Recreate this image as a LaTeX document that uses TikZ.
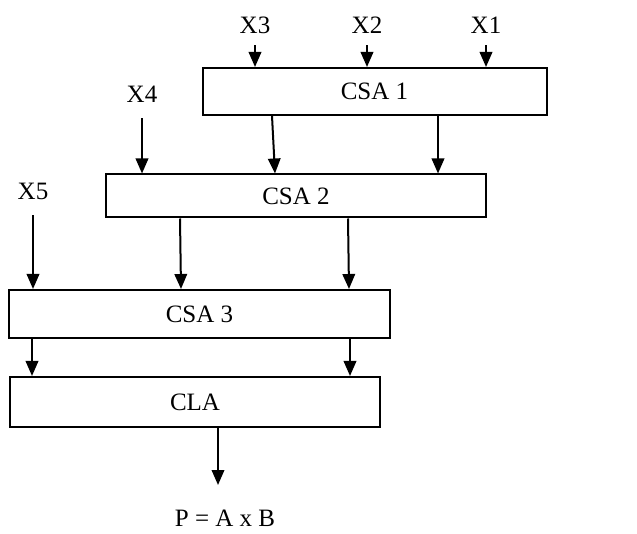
\documentclass[tikz,border=0pt]{standalone}
\usepackage{fontspec}
\setmainfont{Liberation Serif}
\usetikzlibrary{arrows.meta}

\begin{document}
\begin{tikzpicture}[
  x=1pt,y=1pt,
  >={Triangle[length=15pt,width=12.5pt]},
  font=\fontsize{25}{30}\selectfont,
  adder/.style={draw=black, line width=2pt, fill=white, inner sep=0pt},
  operand/.style={fill=white, inner sep=0pt, minimum width=70pt, minimum height=40pt},
  flow/.style={->, draw=black, line width=2pt}
]
\path[use as bounding box] (0,0) rectangle (637,533);

% Adder stages
\node[adder, minimum width=344pt, minimum height=47pt] (csa1) at (374.5,441.5) {CSA 1};
\node[adder, minimum width=380pt, minimum height=43pt] (csa2) at (296,337) {CSA 2};
\node[adder, minimum width=381pt, minimum height=48pt] (csa3) at (199.5,219) {CSA 3};
\node[adder, minimum width=370pt, minimum height=50pt] (cla)  at (195,131) {CLA};

% Partial product inputs
\node[operand] (x3) at (255,508) {X3};
\node[operand] (x2) at (367,508) {X2};
\node[operand] (x1) at (486,508) {X1};
\node[operand, minimum height=48pt] (x4) at (142,439) {X4};
\node[operand, minimum height=48pt] (x5) at (33,342) {X5};

% Product
\coordinate (out) at (218,48);
\node (prod) at (225,15) {P = A x B};

% Inputs into the tree
\draw[flow] (x3.south) -- (x3.south |- csa1.north);
\draw[flow] (x2.south) -- (x2.south |- csa1.north);
\draw[flow] (x1.south) -- (x1.south |- csa1.north);
\draw[flow] (x4.south) -- (x4.south |- csa2.north);
\draw[flow] (x5.south) -- (x5.south |- csa3.north);

% Sum and carry vectors between stages
\draw[flow] (csa1.south -| 272,0) -- (csa2.north -| 275,0);
\draw[flow] (csa1.south -| 438,0) -- (csa2.north -| 438,0);
\draw[flow] (csa2.south -| 180,0) -- (csa3.north -| 181,0);
\draw[flow] (csa2.south -| 348,0) -- (csa3.north -| 349,0);
\draw[flow] (csa3.south -| 32,0) -- (cla.north -| 32,0);
\draw[flow] (csa3.south -| 350,0) -- (cla.north -| 350,0);
\draw[flow] (cla.south -| out) -- (out);

\end{tikzpicture}
\end{document}
